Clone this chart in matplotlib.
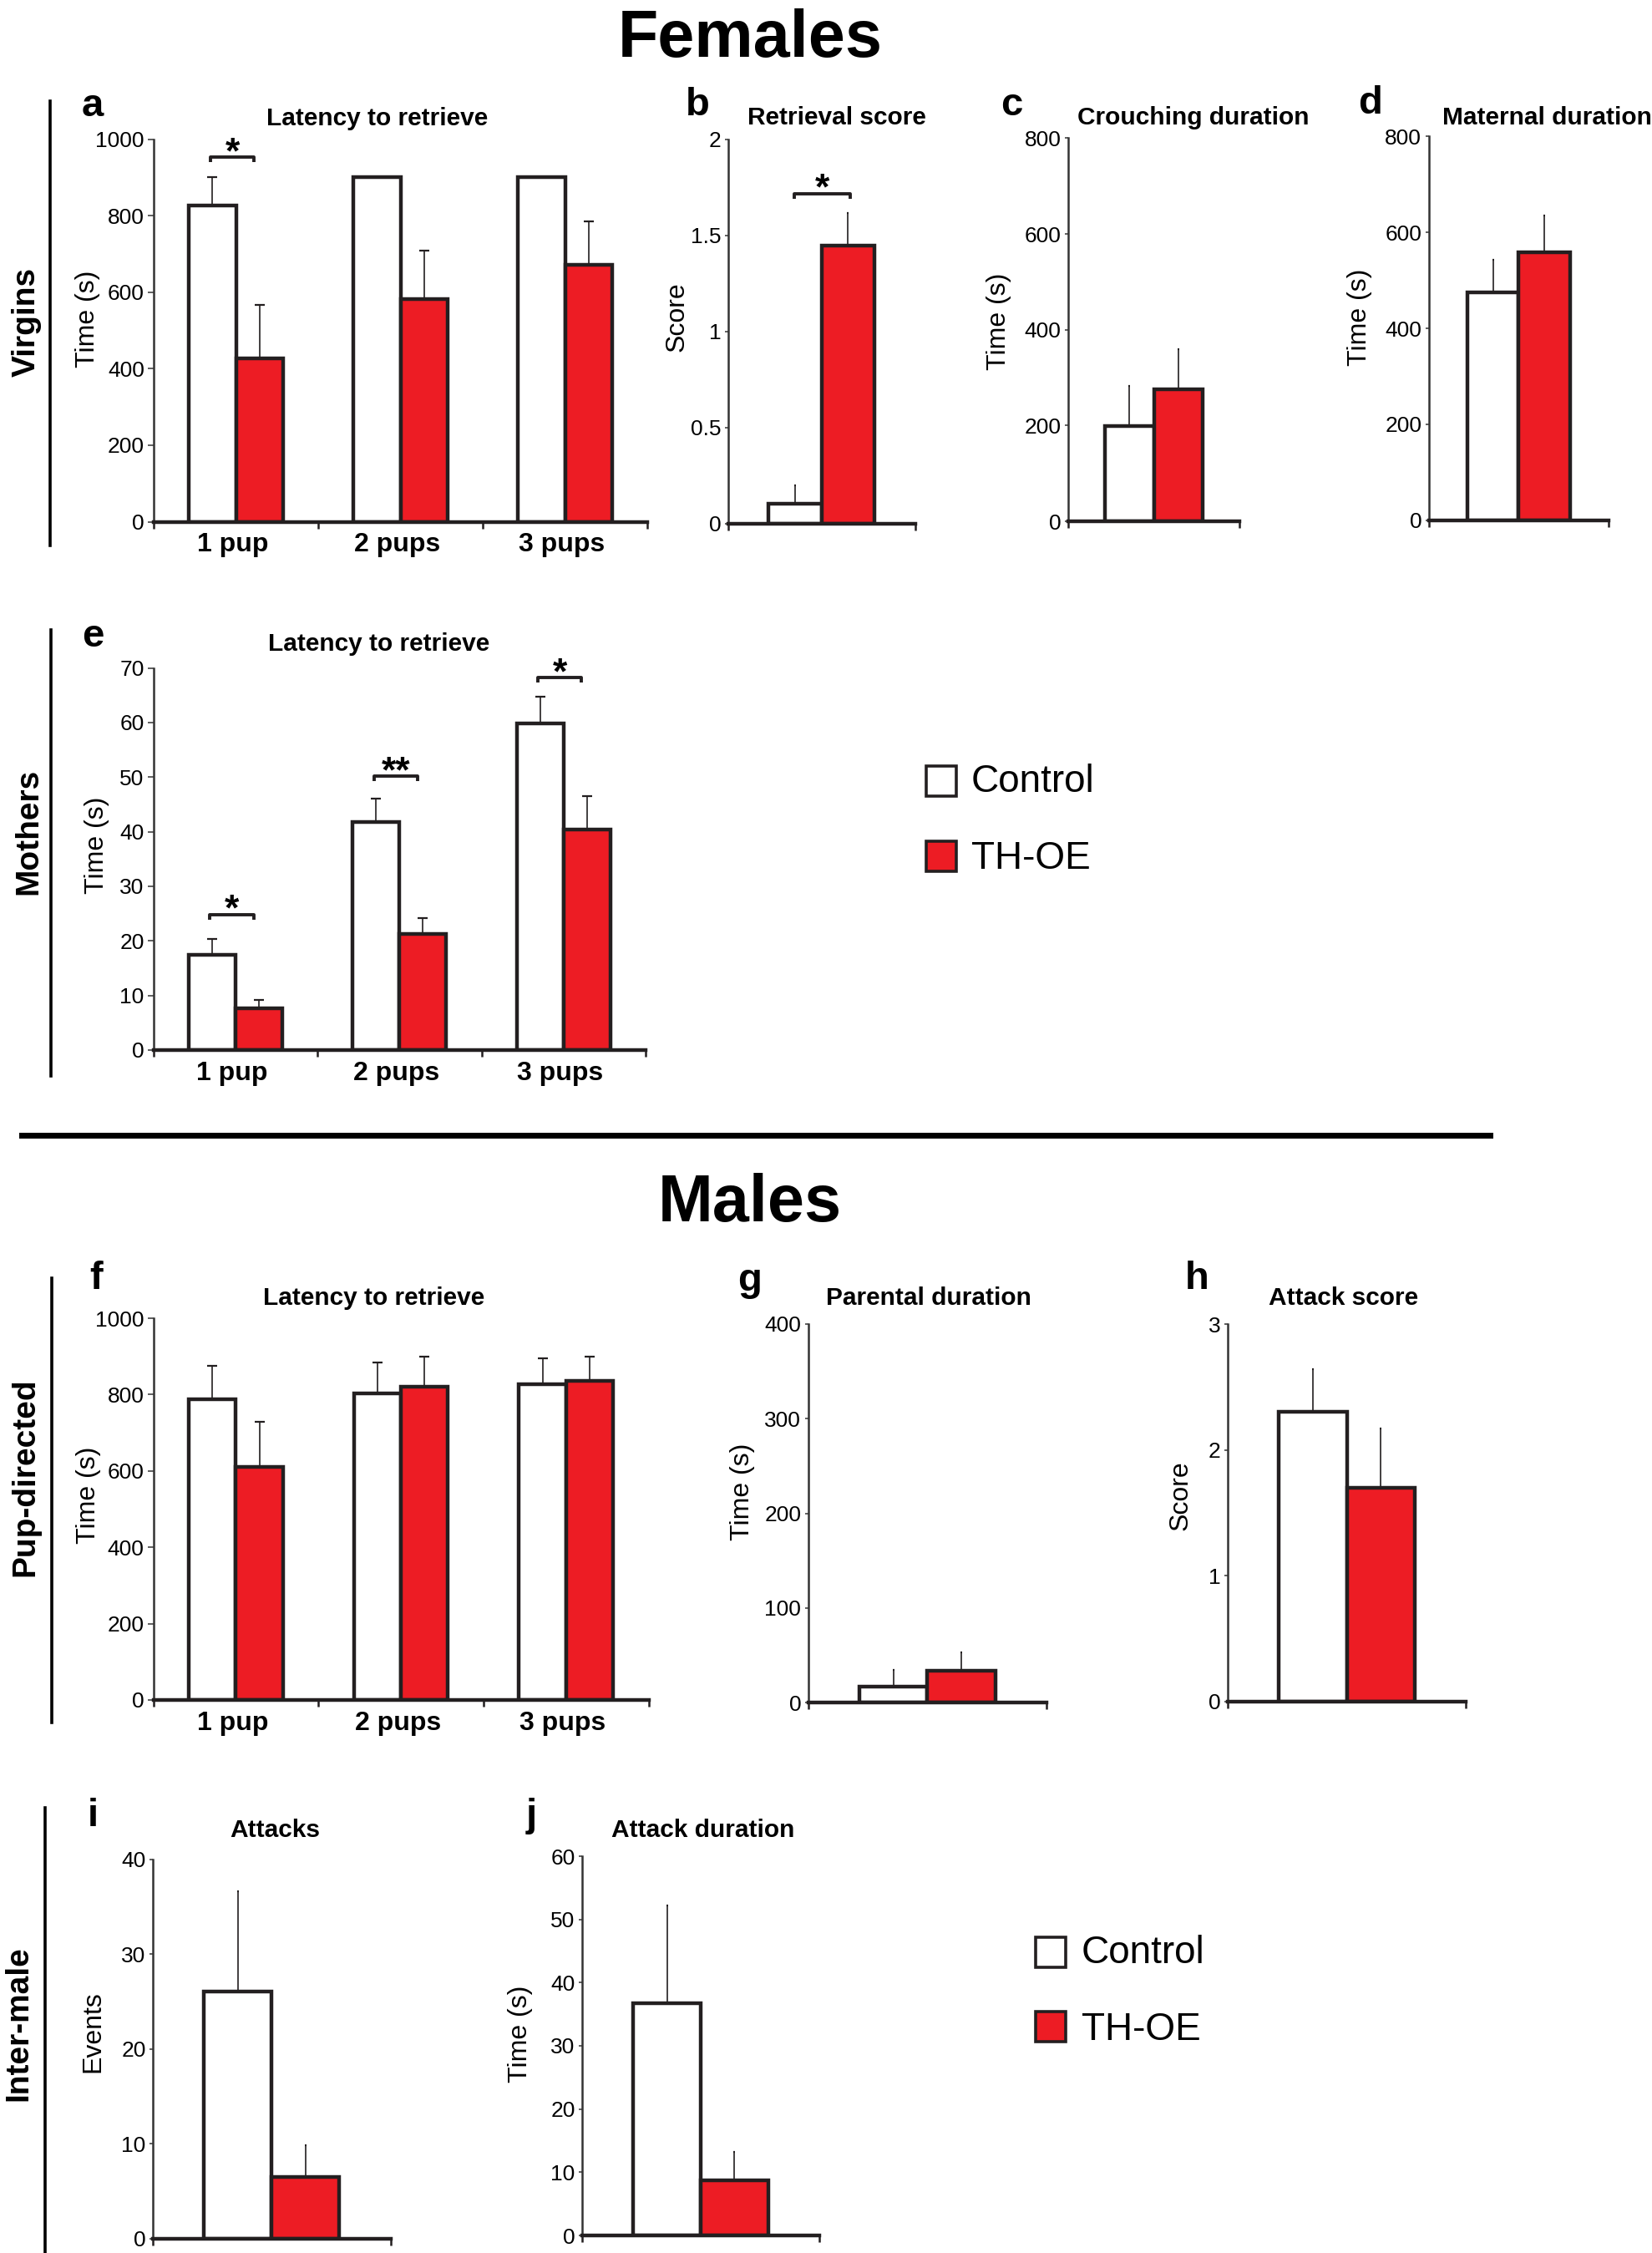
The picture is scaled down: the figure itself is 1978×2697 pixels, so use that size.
import matplotlib
matplotlib.use('Agg')
import matplotlib.pyplot as plt
from matplotlib.patches import Rectangle
from matplotlib.lines import Line2D
import numpy as np

plt.rcParams['font.family'] = ['Liberation Sans', 'DejaVu Sans']

# ---------------- data ----------------
groups = ['Control', 'TH-OE']
pup_cats = ['1 pup', '2 pups', '3 pups']

# a: Virgins, latency to retrieve (s)
a_ctrl = [826, 900, 900]
a_ctrl_sem = [74, 0, 0]
a_th = [426, 582, 672]
a_th_sem = [140, 127, 113]
a_sig = ['*', '', '']

# b: Virgins, retrieval score
b_ctrl = [0.105]
b_ctrl_sem = [0.096]
b_th = [1.446]
b_th_sem = [0.168]
b_sig = ['*']

# c: Virgins, crouching duration (s)
c_ctrl = [199]
c_ctrl_sem = [83]
c_th = [276]
c_th_sem = [83]

# d: Virgins, maternal duration (s)
d_ctrl = [475]
d_ctrl_sem = [68]
d_th = [559]
d_th_sem = [76]

# e: Mothers, latency to retrieve (s)
e_ctrl = [17.5, 41.8, 59.9]
e_ctrl_sem = [2.9, 4.2, 4.9]
e_th = [7.7, 21.3, 40.4]
e_th_sem = [1.5, 2.9, 6.2]
e_sig = ['*', '**', '*']

# f: Males pup-directed, latency to retrieve (s)
f_ctrl = [788, 804, 828]
f_ctrl_sem = [87, 80, 68]
f_th = [610, 821, 836]
f_th_sem = [119, 79, 64]

# g: parental duration (s)
g_ctrl = [16.6]
g_ctrl_sem = [17.6]
g_th = [33.2]
g_th_sem = [19.4]

# h: attack score
h_ctrl = [2.30]
h_ctrl_sem = [0.34]
h_th = [1.70]
h_th_sem = [0.47]

# i: attacks (events)
i_ctrl = [26.1]
i_ctrl_sem = [10.5]
i_th = [6.5]
i_th_sem = [3.3]

# j: attack duration (s)
j_ctrl = [36.7]
j_ctrl_sem = [15.5]
j_th = [8.75]
j_th_sem = [4.4]

# ---------------- style ----------------
W, H = 1978, 2697
DPI = 100
RED = '#ed1c24'
EDGE = '#231f20'
SPINE = '#333333'
BAR_W = 0.285

fig = plt.figure(figsize=(W / DPI, H / DPI), dpi=DPI)
fig.patch.set_facecolor('white')


def fx(px):
    return px / W


def fy(py):
    return 1 - py / H


def px_axes(x0, x1, ytop, ybot):
    return fig.add_axes([fx(x0), fy(ybot), (x1 - x0) / W, (ybot - ytop) / H])


def bar_panel(box, ctrl, ctrl_sem, th, th_sem, ymax, yticks, yticklabels,
              ylabel, ylab_xy, cats=None, capsize=1.0, big_ticks=False):
    ax = px_axes(*box)
    n = len(ctrl)
    x = np.arange(n) + 0.5
    ax.bar(x - BAR_W / 2, ctrl, BAR_W, color='white', edgecolor=EDGE,
           linewidth=3.2, zorder=3)
    ax.bar(x + BAR_W / 2, th, BAR_W, color=RED, edgecolor=EDGE,
           linewidth=3.2, zorder=3)
    ax.errorbar(x - BAR_W / 2, ctrl, yerr=[np.zeros(n), ctrl_sem], fmt='none',
                ecolor=EDGE, elinewidth=1.2, capsize=capsize, capthick=1.6,
                zorder=2)
    ax.errorbar(x + BAR_W / 2, th, yerr=[np.zeros(n), th_sem], fmt='none',
                ecolor=EDGE, elinewidth=1.2, capsize=capsize, capthick=1.6,
                zorder=2)
    ax.set_xlim(0, n)
    ax.set_ylim(0, ymax)
    for s in ['top', 'right']:
        ax.spines[s].set_visible(False)
    ax.spines['left'].set_linewidth(1.8)
    ax.spines['left'].set_color(SPINE)
    ax.spines['bottom'].set_linewidth(3.2)
    ax.spines['bottom'].set_color(EDGE)
    ax.spines['bottom'].set_zorder(4)
    ax.set_yticks(yticks)
    ax.set_yticklabels(yticklabels)
    ax.tick_params(axis='y', direction='out', length=5 if big_ticks else 3,
                   width=1.1, color=SPINE, pad=3, labelsize=19)
    ax.set_xticks(np.arange(n + 1))
    ax.set_xticklabels([])
    ax.tick_params(axis='x', which='major', direction='out', length=6,
                   width=1.8, color=EDGE)
    if cats is not None:
        ax.set_xticks(x - 0.02, minor=True)
        ax.set_xticklabels(cats, minor=True, fontsize=23, fontweight='bold')
        ax.tick_params(axis='x', which='minor', length=0, pad=9)
    ax.set_ylabel(ylabel, fontsize=23)
    ax.yaxis.set_label_coords(fx(ylab_xy[0]), fy(ylab_xy[1]),
                              transform=fig.transFigure)
    ax.yaxis.label.set_verticalalignment('center')
    ax.patch.set_alpha(0)
    return ax


def add_sig(ax, sigs, y_vals, left_off, right_off, drop_px, axis_px):
    ymax = ax.get_ylim()[1]
    d = ymax * drop_px / axis_px
    for k, (s, yv) in enumerate(zip(sigs, y_vals)):
        if not s:
            continue
        xc = k + 0.5
        x1, x2 = xc + left_off, xc + right_off
        ax.plot([x1, x1, x2, x2], [yv - d, yv, yv, yv - d], color=EDGE,
                lw=2.8, solid_capstyle='butt', clip_on=False, zorder=5)
        ax.annotate(s, xy=((x1 + x2) / 2, yv), xytext=(0, -5),
                    textcoords='offset points', ha='center', va='baseline',
                    fontsize=32, fontweight='bold', annotation_clip=False)


def title_at(text, cx, by):
    fig.text(fx(cx), fy(by), text, ha='center', va='baseline', fontsize=21.5,
             fontweight='bold')


def letter_at(text, cx, by):
    fig.text(fx(cx), fy(by), text, ha='center', va='baseline', fontsize=34,
             fontweight='bold')


def row_label(text, cx, cy, lx, ly0, ly1):
    fig.text(fx(cx), fy(cy), text, ha='center', va='center', rotation=90,
             fontsize=28, fontweight='bold')
    fig.add_artist(Line2D([fx(lx), fx(lx)], [fy(ly0), fy(ly1)], color='black',
                          lw=2.6, transform=fig.transFigure))


def legend_at(x0, size, rows, text_x):
    # rows: list of (top_px, baseline_px)
    fills = ['white', RED]
    for (top, base), lab, fc in zip(rows, groups, fills):
        fig.add_artist(Rectangle((fx(x0), fy(top + size)), size / W, size / H,
                                 facecolor=fc, edgecolor=EDGE, lw=2.6,
                                 transform=fig.transFigure))
        fig.text(fx(text_x), fy(base), lab, ha='left', va='baseline',
                 fontsize=33)


# ---------------- headers ----------------
fig.text(fx(898), fy(68), 'Females', ha='center', va='baseline', fontsize=57,
         fontweight='bold')
fig.text(fx(898), fy(1462), 'Males', ha='center', va='baseline', fontsize=57,
         fontweight='bold')
fig.add_artist(Line2D([fx(26), fx(1784)], [fy(1359), fy(1359)], color='black',
                      lw=5, transform=fig.transFigure))

# ---------------- panels ----------------
ax_a = bar_panel((184, 775, 166.5, 624.6), a_ctrl, a_ctrl_sem, a_th, a_th_sem,
                 1000, [0, 200, 400, 600, 800, 1000],
                 ['0', '200', '400', '600', '800', '1000'], 'Time (s)',
                 (105, 382), cats=pup_cats, capsize=4.5, big_ticks=True)
add_sig(ax_a, a_sig, [952, 0, 0], -0.155, 0.11, 6, 458)

ax_b = bar_panel((871.7, 1095.5, 166.5, 627), b_ctrl, b_ctrl_sem, b_th, b_th_sem,
                 2, [0, 0.5, 1, 1.5, 2], ['0', '0.5', '1', '1.5', '2'], 'Score',
                 (810.5, 379))
add_sig(ax_b, b_sig, [1.717], -0.145, 0.155, 6, 460)

bar_panel((1279, 1484, 165.4, 624), c_ctrl, c_ctrl_sem, c_th, c_th_sem,
          800, [0, 200, 400, 600, 800], ['0', '200', '400', '600', '800'],
          'Time (s)', (1196, 385))

bar_panel((1710.5, 1926, 163.5, 622.7), d_ctrl, d_ctrl_sem, d_th, d_th_sem,
          800, [0, 200, 400, 600, 800], ['0', '200', '400', '600', '800'],
          'Time (s)', (1628, 380))

ax_e = bar_panel((183.7, 773, 799.6, 1257), e_ctrl, e_ctrl_sem, e_th, e_th_sem,
                 70, list(range(0, 71, 10)), [str(v) for v in range(0, 71, 10)],
                 'Time (s)', (116, 1012), cats=pup_cats, capsize=4.5,
                 big_ticks=True)
add_sig(ax_e, e_sig, [24.8, 50.2, 68.2], -0.155, 0.11, 6, 457)

bar_panel((183.7, 776.5, 1578, 2035), f_ctrl, f_ctrl_sem, f_th, f_th_sem,
          1000, [0, 200, 400, 600, 800, 1000],
          ['0', '200', '400', '600', '800', '1000'], 'Time (s)',
          (105.6, 1790), cats=pup_cats, capsize=4.5, big_ticks=True)

bar_panel((967.5, 1253, 1585, 2038), g_ctrl, g_ctrl_sem, g_th, g_th_sem,
          400, [0, 100, 200, 300, 400], ['0', '100', '200', '300', '400'],
          'Time (s)', (888.5, 1786))

bar_panel((1470, 1755, 1585, 2037), h_ctrl, h_ctrl_sem, h_th, h_th_sem,
          3, [0, 1, 2, 3], ['0', '1', '2', '3'], 'Score', (1414, 1790))

bar_panel((183, 467.5, 2225.8, 2679.7), i_ctrl, i_ctrl_sem, i_th, i_th_sem,
          40, [0, 10, 20, 30, 40], ['0', '10', '20', '30', '40'], 'Events',
          (111.6, 2432))

bar_panel((697, 981, 2222, 2676), j_ctrl, j_ctrl_sem, j_th, j_th_sem,
          60, list(range(0, 61, 10)), [str(v) for v in range(0, 61, 10)],
          'Time (s)', (623, 2434.5))

# ---------------- titles & letters ----------------
title_at('Latency to retrieve', 451.5, 150.5)
title_at('Retrieval score', 1001.5, 149.3)
title_at('Crouching duration', 1428.6, 149.3)
title_at('Maternal duration', 1852, 149.3)
title_at('Latency to retrieve', 454, 779)
title_at('Latency to retrieve', 447.5, 1561.6)
title_at('Parental duration', 1112, 1561.6)
title_at('Attack score', 1608.5, 1561.6)
title_at('Attacks', 329, 2198.7)
title_at('Attack duration', 842, 2198.7)

letter_at('a', 111, 139)
letter_at('b', 835, 138)
letter_at('c', 1211.5, 138)
letter_at('d', 1641, 136)
letter_at('e', 111.7, 773.6)
letter_at('f', 115, 1543)
letter_at('g', 898, 1545)
letter_at('h', 1433, 1543)
letter_at('i', 111.6, 2186)
letter_at('j', 636, 2186)

row_label('Virgins', 32, 385, 60, 121, 652.5)
row_label('Mothers', 34.5, 995.5, 61, 754, 1288)
row_label('Pup-directed', 30, 1768, 62, 1530, 2062)
row_label('Inter-male', 22, 2422, 54, 2164, 2697)

# ---------------- legends ----------------
legend_at(1109, 36, [(917, 948), (1007, 1040)], 1163)
legend_at(1240, 36, [(2319, 2350), (2408, 2442)], 1295)

fig.savefig('out.png', dpi=DPI, facecolor='white')
